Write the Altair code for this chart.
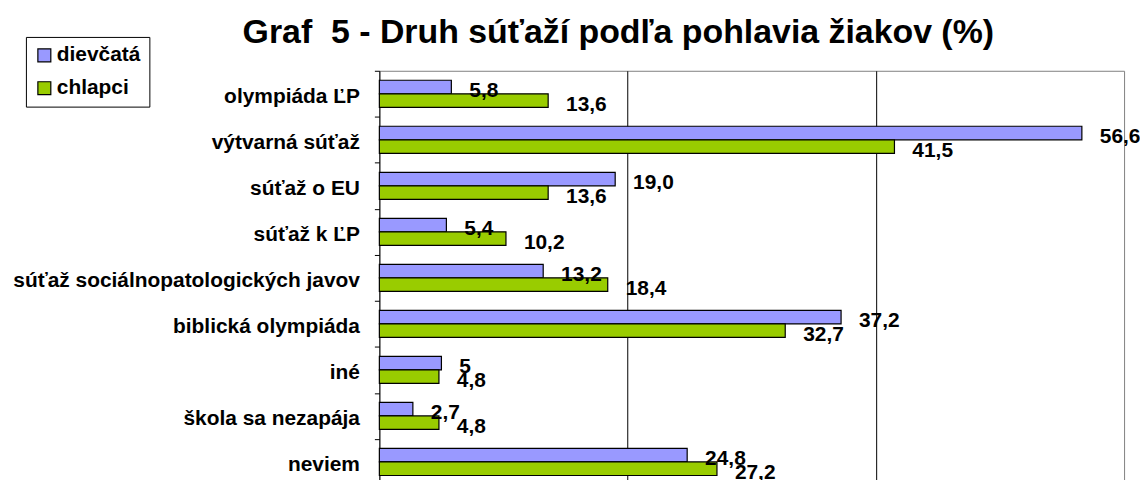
import altair as alt
import pandas as pd

categories = ["olympiáda ĽP", "výtvarná súťaž", "súťaž o EU", "súťaž k ĽP",
              "súťaž sociálnopatologických javov", "biblická olympiáda", "iné",
              "škola sa nezapája", "neviem"]
series = ["dievčatá", "chlapci"]
dievcata = [5.8, 56.6, 19.0, 5.4, 13.2, 37.2, 5.0, 2.7, 24.8]
chlapci = [13.6, 41.5, 13.6, 10.2, 18.4, 32.7, 4.8, 4.8, 27.2]
dievcata_labels = ["5,8", "56,6", "19,0", "5,4", "13,2", "37,2", "5", "2,7", "24,8"]
chlapci_labels = ["13,6", "41,5", "13,6", "10,2", "18,4", "32,7", "4,8", "4,8", "27,2"]
colors = ["#9999FF", "#99CC00"]
title_text = "Graf\u00a0 5 - Druh súťaží podľa pohlavia žiakov (%)"

rows = []
for c, v, l in zip(categories, dievcata, dievcata_labels):
    rows.append(dict(cat=c, series=series[0], value=v, label=l))
for c, v, l in zip(categories, chlapci, chlapci_labels):
    rows.append(dict(cat=c, series=series[1], value=v, label=l))
df = pd.DataFrame(rows)

FONT = "Liberation Sans"
FS = 21

y = alt.Y("cat:N", sort=categories,
          scale=alt.Scale(paddingInner=0, paddingOuter=0),
          axis=alt.Axis(title=None, labelFont=FONT, labelFontSize=FS, labelFontWeight="bold",
                        labelColor="black", labelPadding=15, labelOffset=3, tickBand="extent",
                        tickSize=5, tickColor="black", domainColor="black", labelLimit=500,
                        grid=False))
x = alt.X("value:Q", scale=alt.Scale(domain=[0, 60], nice=False, zero=True),
          axis=alt.Axis(title=None, values=[20, 40], labels=False, ticks=False, domain=False,
                        grid=True, gridColor="black", gridWidth=1, gridOpacity=1))
yoff = alt.YOffset("series:N", sort=series, scale=alt.Scale(paddingInner=0, paddingOuter=0.7))
color = alt.Color("series:N", sort=series, scale=alt.Scale(domain=series, range=colors),
                  legend=alt.Legend(title=None, orient="none", legendX=-355, legendY=-34,
                                    direction="vertical", symbolType="square", symbolSize=169,
                                    symbolStrokeColor="black", symbolStrokeWidth=1.2,
                                    labelFont=FONT, labelFontSize=FS, labelFontWeight="bold",
                                    labelColor="black", strokeColor="black", fillColor="white",
                                    padding=8, rowPadding=11, labelOffset=2))

bars = alt.Chart(df).mark_bar(stroke="black", strokeWidth=1.2).encode(
    x=x, y=y, yOffset=yoff, color=color)

text = alt.Chart(df).mark_text(align="left", baseline="middle", dx=18, dy=4, font=FONT,
                               fontSize=FS, fontWeight="bold", color="black").encode(
    x="value:Q", y=alt.Y("cat:N", sort=categories),
    yOffset=alt.YOffset("series:N", sort=series), text="label:N")

chart = alt.layer(bars, text).properties(
    width=748, height=416,
    title=alt.TitleParams(text=title_text, font=FONT, fontSize=34, fontWeight="bold",
                          color="black", anchor="middle", frame="group", dx=-134, dy=34,
                          offset=20),
    autosize=alt.AutoSizeParams(type="none"),
    padding={"left": 373, "top": 62, "right": 16, "bottom": 0},
).configure_view(stroke="#808080", strokeWidth=1)

chart.save("out.html", embed_options={"renderer": "svg", "actions": False})
